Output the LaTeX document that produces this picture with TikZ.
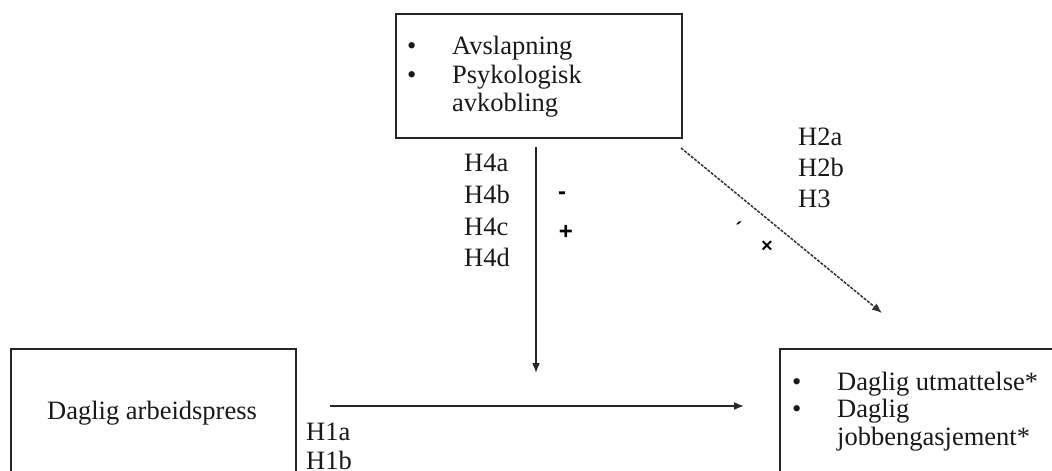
\documentclass[tikz,border=0pt]{standalone}
\usepackage{fontspec}
\setmainfont{Liberation Serif}
\newfontfamily\sansf{Liberation Sans}
\usetikzlibrary{arrows.meta}
\begin{document}
\begin{tikzpicture}[x=1pt,y=-1pt,
 box/.style={draw=black!85, line width=1.7pt, inner sep=0pt, anchor=north west},
 txt/.style={anchor=base west, inner sep=0pt, font=\fontsize{26.5}{28}\selectfont, text=black!90},
 sign/.style={inner sep=0pt, font=\sansf\bfseries\fontsize{24}{24}\selectfont},
 arr/.style={line width=1.6pt, draw=black!85, -{Latex[length=10pt,width=8pt]}},
 darr/.style={line width=1.5pt, draw=black!80, dash pattern=on 3pt off 1.3pt, -{Latex[length=10pt,width=8pt]}},
]
\useasboundingbox (0,0) rectangle (1052,471);
\clip (0,0) rectangle (1052,471);
% boxes
\node[box, minimum width=286pt, minimum height=124pt] (rec) at (395,13) {};
\node[box, minimum width=285pt, minimum height=200pt] (press) at (10,348) {};
\node[box, minimum width=320pt, minimum height=200pt] (out) at (779,348) {};
% top box text
\node[txt] (b1) at (407,54) {•};
\node[txt] (t1) at (452,54) {Avslapning};
\node[txt] (b2) at (407,83) {•};
\node[txt] (t2) at (452,83) {Psykologisk};
\node[txt] (t3) at (452,111) {avkobling};
% left box text
\node[txt] (t4) at (47,419) {Daglig arbeidspress};
% right box text
\node[txt] (b3) at (792,390) {•};
\node[txt] (t5) at (837,390) {Daglig utmattelse*};
\node[txt] (b4) at (792,417) {•};
\node[txt] (t6) at (837,417) {Daglig};
\node[txt] (t7) at (837,445) {jobbengasjement*};
% hypothesis labels
\node[txt] (h4a) at (464,171) {H4a};
\node[txt] (h4b) at (464,203) {H4b};
\node[txt] (h4c) at (464,235) {H4c};
\node[txt] (h4d) at (464,266) {H4d};
\node[txt] (h2a) at (798,145) {H2a};
\node[txt] (h2b) at (798,176) {H2b};
\node[txt] (h3) at (798,207) {H3};
\node[txt] (h1a) at (306,440) {H1a};
\node[txt] (h1b) at (306,469) {H1b};
% signs
\node[sign] (minus) at (562,196) {-};
\node[sign] (plus) at (566,232) {+};
\node[sign, font=\sansf\bfseries\fontsize{20}{20}\selectfont] (tick) at (739,229) {´};
\node[sign, font=\sansf\bfseries\fontsize{20}{20}\selectfont] (times) at (767,247) {×};
% connectors
\coordinate (v0) at (536,147);
\coordinate (v1) at (536,373);
\coordinate (hh0) at (330,406);
\coordinate (hh1) at (744,406);
\coordinate (d0) at (681,148);
\coordinate (d1) at (882,313);
\draw[arr] (v0) -- (v1);
\draw[arr] (hh0) -- (hh1);
\draw[darr] (d0) -- (d1);
\end{tikzpicture}
\end{document}
